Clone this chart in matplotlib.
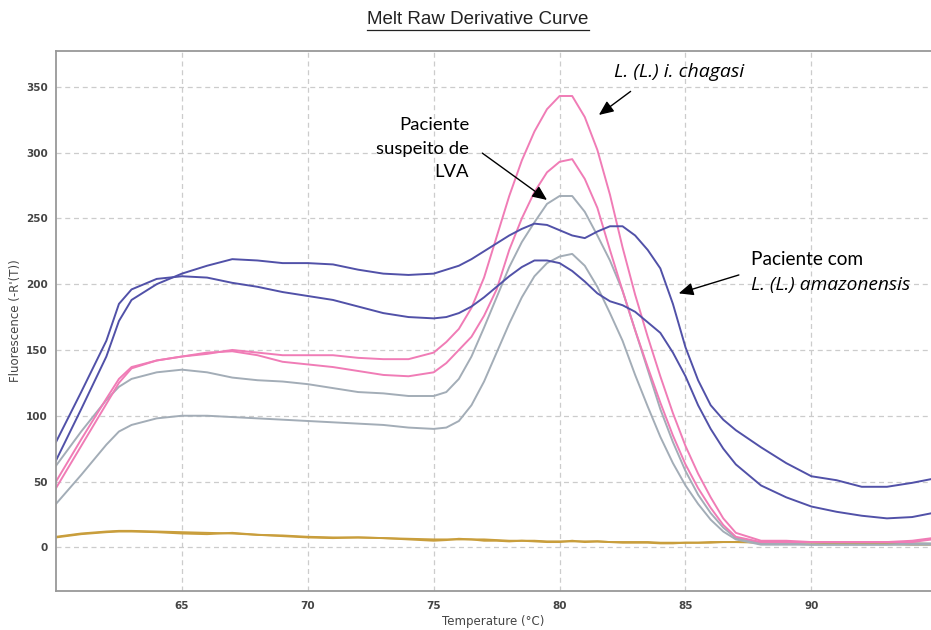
import matplotlib
matplotlib.use("Agg")
import matplotlib.pyplot as plt
from matplotlib.lines import Line2D

# temperature knots shared by every trace (deg C)
temp = [60, 61, 62, 62.5, 63, 64, 65, 66, 67, 68, 69, 70, 71, 72, 73, 74, 75, 75.5,
        76, 76.5, 77, 77.5, 78, 78.5, 79, 79.5, 80, 80.5, 81, 81.5, 82, 82.5, 83,
        83.5, 84, 84.5, 85, 85.5, 86, 86.5, 87, 88, 89, 90, 91, 92, 93, 94, 94.8]

# L. (L.) amazonensis patient (navy)
navy_a = [80, 118, 157, 185, 196, 204, 206, 205, 201, 198, 194, 191, 188, 183, 178, 175, 174, 175,
          178, 183, 190, 198, 206, 213, 218, 218, 216, 210, 202, 193, 187, 184, 179,
          171, 163, 148, 130, 108, 90, 75, 63, 47, 38, 31, 27, 24, 22, 23, 26]
navy_b = [66, 105, 145, 172, 188, 200, 208, 214, 219, 218, 216, 216, 215, 211, 208, 207, 208, 211,
          214, 219, 225, 231, 237, 242, 246, 245, 241, 237, 235, 240, 244, 244, 237,
          226, 212, 185, 152, 127, 108, 97, 89, 76, 64, 54, 51, 46, 46, 49, 52]
# L. (L.) i. chagasi (pink)
pink_a = [50, 82, 113, 128, 137, 142, 145, 147, 150, 148, 146, 146, 146, 144, 143, 143, 148, 156,
          166, 182, 205, 236, 267, 294, 316, 333, 343, 343, 327, 302, 268, 228, 192,
          160, 130, 102, 77, 56, 38, 22, 11, 5, 5, 4, 4, 4, 4, 5, 7]
pink_b = [45, 77, 109, 125, 136, 142, 145, 148, 149, 146, 141, 139, 137, 134, 131, 130, 133, 140,
          150, 160, 176, 196, 226, 250, 270, 285, 293, 295, 280, 258, 226, 195, 165,
          137, 110, 85, 63, 45, 30, 17, 8, 4, 4, 4, 4, 4, 4, 4, 6]
# suspected LVA patient (grey)
grey_a = [62, 88, 112, 122, 128, 133, 135, 133, 129, 127, 126, 124, 121, 118, 117, 115, 115, 118,
          128, 145, 167, 190, 213, 232, 247, 261, 267, 267, 255, 237, 218, 195, 165,
          135, 105, 80, 58, 40, 26, 15, 7, 3, 3, 2, 2, 2, 2, 3, 3]
grey_b = [33, 55, 78, 88, 93, 98, 100, 100, 99, 98, 97, 96, 95, 94, 93, 91, 90, 91,
          96, 108, 126, 148, 170, 190, 206, 216, 221, 223, 214, 198, 178, 157, 131,
          107, 84, 64, 47, 33, 21, 12, 6, 2, 2, 2, 2, 2, 2, 2, 2]
# negative controls (gold)
gold_a = [8, 10.5, 12, 12.5, 12.5, 12, 11.5, 11, 10.5, 9.5, 9, 8, 7.5, 7.5, 7, 6.5, 6, 6,
          6, 6, 6, 5.5, 5, 5, 5, 4.5, 4.5, 4.5, 4.5, 4.5, 4, 4, 4,
          4, 3.5, 3.5, 3.5, 3.5, 4, 4, 4, 4, 4, 4, 3.5, 3.5, 3, 3, 2.5]
gold_b = [7.5, 10, 11.5, 12, 12, 11.5, 10.5, 10, 11, 9.5, 8.5, 7.5, 7, 7.5, 7, 6, 5, 5.5,
          6.5, 6, 5, 5, 4.5, 5, 4.5, 4, 4, 5, 4, 4.5, 4, 3.5, 3.5,
          3.5, 3, 3, 3.5, 3.5, 3.5, 4, 4, 3.5, 3.5, 3.5, 3, 3, 2.5, 2, 2]

x_ticks = [65, 70, 75, 80, 85, 90]
y_ticks = [0, 50, 100, 150, 200, 250, 300, 350]

navy = "#5151a8"
pink = "#f07cb6"
grey = "#a3adb7"
gold = "#c99e3c"

fig = plt.figure(figsize=(9.31, 6.30), dpi=100)
ax = fig.add_axes([56 / 931, 1 - 591 / 630, 875 / 931, 540 / 630])

for ys, c in [(gold_a, gold), (gold_b, gold), (grey_a, grey), (grey_b, grey),
              (pink_a, pink), (pink_b, pink), (navy_a, navy), (navy_b, navy)]:
    ax.plot(temp, ys, color=c, lw=1.4)

ax.set_xlim(60, 94.75)
ax.set_ylim(-33.2, 377.2)
ax.set_xticks(x_ticks)
ax.set_yticks(y_ticks)
ax.tick_params(length=0, labelsize=7.5, labelcolor="#444444")
ax.tick_params(axis="x", pad=7)
ax.tick_params(axis="y", pad=6)
for lab in ax.get_xticklabels() + ax.get_yticklabels():
    lab.set_fontweight("semibold")
ax.grid(True, color="#cccccc", lw=0.9, ls=(0, (4, 3)))
for s in ["left", "bottom", "top"]:
    ax.spines[s].set_color("#999999")
    ax.spines[s].set_linewidth(1.3)
ax.spines["right"].set_visible(False)

ax.set_xlabel("Temperature (°C)", fontsize=8.5, color="#444444", labelpad=3)
ax.set_ylabel("Fluorescence (-R'(T))", fontsize=8.5, color="#444444", labelpad=3)

title = fig.text(478 / 931, 1 - 20 / 630, "Melt Raw Derivative Curve",
                 ha="center", va="center", fontsize=13.5, color="#222222",
                 family=["Liberation Sans Narrow", "Liberation Sans"])

up_font = ["Lato", "DejaVu Sans"]
it_font = ["Open Sans", "DejaVu Sans"]
arrow = dict(arrowstyle="-|>,head_length=0.8,head_width=0.35", color="black",
             lw=1.0, mutation_scale=11, shrinkA=0, shrinkB=0)

ax.text(84.73, 361.4, "L. (L.) i. chagasi", style="italic", fontsize=14,
        family=it_font, ha="center", va="center")
ax.annotate("", xy=(81.56, 328.6), xytext=(82.82, 346.5), arrowprops=arrow)

ax.text(76.41, 302.9, "Paciente\nsuspeito de\nLVA", fontsize=13.3, family=up_font,
        ha="right", va="center", multialignment="right", linespacing=1.58)
ax.annotate("", xy=(79.5, 264), xytext=(76.93, 299.6), arrowprops=arrow)

ax.text(87.62, 218.5, "Paciente com", fontsize=13.7, family=up_font,
        ha="left", va="center")
ax.text(87.62, 199.5, "L. (L.) amazonensis", style="italic", fontsize=13.8,
        family=it_font, ha="left", va="center")
ax.annotate("", xy=(84.73, 193), xytext=(87.12, 207), arrowprops=arrow)

# underline the title
fig.canvas.draw()
bb = title.get_window_extent().transformed(fig.transFigure.inverted())
fig.add_artist(Line2D([bb.x0, bb.x1], [bb.y0 - 0.002, bb.y0 - 0.002],
                      transform=fig.transFigure, color="#222222", lw=0.9))

fig.savefig("out.png", dpi=100)
